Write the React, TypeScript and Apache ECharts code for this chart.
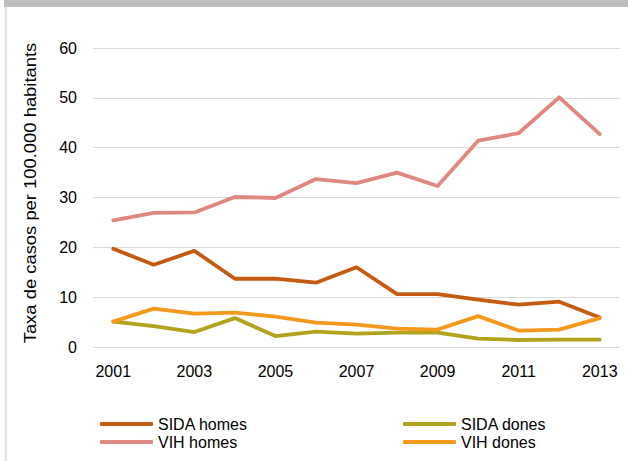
import React, { useEffect, useRef } from "react";
import * as echarts from "echarts";

const years = ["2001","2002","2003","2004","2005","2006","2007","2008","2009","2010","2011","2012","2013"];
const sidaHomes = [19.7, 16.5, 19.3, 13.7, 13.7, 12.9, 16.0, 10.6, 10.6, 9.5, 8.5, 9.1, 5.9];
const sidaDones = [5.1, 4.2, 3.0, 5.8, 2.2, 3.1, 2.7, 2.9, 2.9, 1.7, 1.4, 1.5, 1.5];
const vihHomes = [25.4, 26.9, 27.0, 30.1, 29.9, 33.7, 32.9, 35.0, 32.3, 41.4, 42.9, 50.1, 42.7];
const vihDones = [5.1, 7.7, 6.7, 6.9, 6.1, 4.9, 4.5, 3.7, 3.5, 6.2, 3.3, 3.5, 5.8];
const yTitle = "Taxa de casos per 100.000 habitants";

const FONT = "'Liberation Sans', Arial, sans-serif";

export default function App() {
  const ref = useRef<HTMLDivElement>(null);
  useEffect(() => {
    if (!ref.current) return;
    const chart = echarts.init(ref.current, undefined, { renderer: "svg" });
    const line = (name: string, data: number[], color: string) => ({
      name,
      type: "line",
      data,
      symbol: "none",
      lineStyle: { width: 3.8, color, cap: "round", join: "round" },
      itemStyle: { color },
    });
    const leg = (name: string, left: number, top: number) => ({
      orient: "horizontal",
      left,
      top,
      icon: "roundRect",
      itemWidth: 53,
      itemHeight: 4,
      itemGap: 0,
      padding: 0,
      data: [name],
      textStyle: { fontFamily: FONT, fontSize: 16, color: "#000" },
    });
    chart.setOption({
      animation: false,
      backgroundColor: "#fff",
      textStyle: { fontFamily: FONT },
      graphic: [
        { type: "rect", shape: { x: 4, y: 0, width: 624, height: 7 }, style: { fill: "#BFBFBF" }, silent: true },
        { type: "rect", shape: { x: 5, y: 7, width: 1.5, height: 454 }, style: { fill: "#D9D9D9" }, silent: true },
        {
          type: "text",
          x: 30,
          y: 193,
          rotation: Math.PI / 2,
          scaleX: 1.15,
          silent: true,
          style: { text: yTitle, fontSize: 16, fontFamily: FONT, fill: "#000", align: "center", verticalAlign: "middle" },
        },
      ],
      grid: { left: 93, right: 8, top: 48, bottom: 114, containLabel: false },
      legend: [
        leg("SIDA homes", 100, 416),
        leg("VIH homes", 100, 434),
        leg("SIDA dones", 403, 416),
        leg("VIH dones", 403, 434),
      ],
      xAxis: {
        type: "category",
        data: years,
        boundaryGap: true,
        axisLine: { show: false },
        axisTick: { show: false },
        axisLabel: { interval: 1, margin: 16, fontSize: 16, color: "#000", fontFamily: FONT },
      },
      yAxis: {
        type: "value",
        min: 0,
        max: 60,
        interval: 10,
        axisLine: { show: false },
        axisTick: { show: false },
        axisLabel: { margin: 16, fontSize: 16, color: "#000", fontFamily: FONT },
        splitLine: { lineStyle: { color: "#D9D9D9", width: 1 } },
      },
      series: [
        line("SIDA homes", sidaHomes, "#C55A11"),
        line("SIDA dones", sidaDones, "#B3A21B"),
        line("VIH homes", vihHomes, "#E0887F"),
        line("VIH dones", vihDones, "#F4991C"),
      ],
    });
    return () => chart.dispose();
  }, []);
  return <div ref={ref} style={{ position: "fixed", left: 0, top: 0, width: 628, height: 461 }} />;
}
